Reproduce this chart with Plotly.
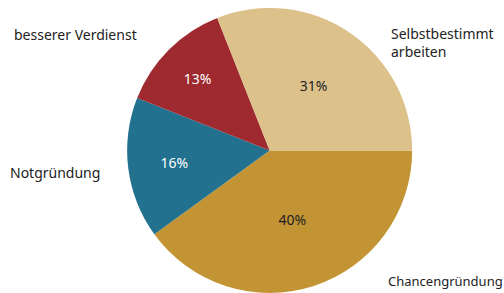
import plotly.graph_objects as go

labels = ["Chancengründung", "Notgründung", "besserer Verdienst", "Selbstbestimmt arbeiten"]
label_text = ["Chancengründung", "Notgründung", "besserer Verdienst", "Selbstbestimmt<br>arbeiten"]
values = [40, 16, 13, 31]
colors = ["#C39434", "#21718F", "#9E2A2F", "#DDC18A"]
text_colors = ["#222222", "#FFFFFF", "#FFFFFF", "#222222"]

fig = go.Figure(go.Pie(
    labels=labels,
    values=values,
    sort=False,
    direction="clockwise",
    rotation=90,
    marker=dict(colors=colors, line=dict(width=0)),
    textinfo="percent",
    texttemplate="%{value}%",
    textposition="inside",
    insidetextorientation="horizontal",
    insidetextfont=dict(family="Noto Sans", size=14, color=text_colors),
    hoverinfo="label+percent",
    domain=dict(x=[0.25, 0.82], y=[0, 1]),
    showlegend=False,
))

# outside labels (positions in pixels from top-left of the figure)
ann_pos = [(386, 281), (8, 172), (12, 35), (389, 43)]
sizes = [13, 14, 14, 14]
for txt, (px, py), fs in zip(label_text, ann_pos, sizes):
    fig.add_annotation(
        text=txt, xref="paper", yref="paper",
        x=px / 504, y=1 - (py - 8) / 285,
        xanchor="left", yanchor="middle", align="left",
        showarrow=False,
        font=dict(family="Noto Sans", size=fs, color="#222222"),
    )

fig.update_layout(
    width=504, height=293,
    margin=dict(l=0, r=0, t=8, b=0),
    paper_bgcolor="white",
    plot_bgcolor="white",
)

fig.write_html("out.html", config={"displayModeBar": False},
               post_script="document.body.style.margin='0';")
